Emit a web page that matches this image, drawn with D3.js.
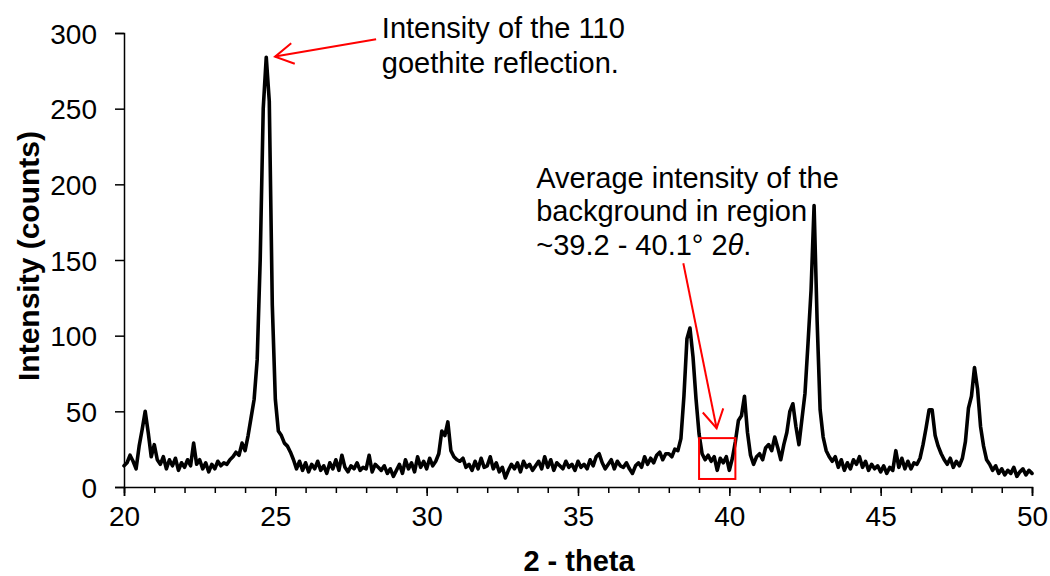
<!DOCTYPE html>
<html>
<head>
<meta charset="utf-8">
<script src="https://cdn.jsdelivr.net/npm/d3@7"></script>
<style>
  html, body { margin: 0; padding: 0; background: #fff; }
  svg { display: block; font-family: "Liberation Sans", Arial, sans-serif; }
</style>
</head>
<body>
<svg id="chart" width="1050" height="576"></svg>
<script>
// ---- data ----
const thetaStart = 20.0;
const thetaStep = 0.1;
const intensity = [
  14, 16, 21, 17, 12, 27, 38, 50, 36, 20,      // 20.0 - 20.9
  28, 18, 15, 20, 12, 18, 14, 19, 11, 16,      // 21
  13, 18, 14, 29, 15, 18, 12, 16, 10, 15,      // 22
  12, 17, 14, 16, 15, 18, 20, 23, 21, 29,      // 23
  24, 34, 46, 58, 84, 150, 250, 284, 255, 120, // 24
  58, 37, 34, 29, 27, 23, 18, 12, 17, 11,      // 25
  16, 10, 15, 12, 17, 11, 14, 9, 16, 12,       // 26
  18, 11, 21, 13, 10, 14, 12, 16, 11, 13,      // 27
  12, 21, 10, 15, 13, 11, 14, 9, 12, 7,        // 28
  11, 15, 9, 18, 12, 16, 10, 20, 13, 17,       // 29
  12, 19, 14, 17, 22, 37, 34, 43, 24, 20,      // 30
  18, 17, 19, 13, 15, 11, 17, 12, 19, 13,      // 31
  14, 20, 12, 16, 10, 13, 6, 11, 15, 12,       // 32
  16, 10, 17, 13, 15, 11, 14, 17, 12, 20,      // 33
  13, 18, 11, 16, 14, 12, 17, 13, 15, 11,      // 34
  17, 13, 15, 12, 18, 14, 20, 22, 16, 12,      // 35
  15, 18, 12, 17, 14, 13, 16, 12, 9, 14,       // 36
  16, 13, 20, 15, 19, 16, 21, 23, 18, 22,      // 37
  22, 20, 25, 24, 32, 60, 98, 105, 86, 58,     // 38
  35, 22, 18, 21, 17, 20, 11, 19, 16, 20,      // 39
  11, 19, 30, 44, 47, 60, 36, 21, 15, 20,      // 40
  22, 18, 26, 28, 24, 33, 26, 18, 28, 36,      // 41
  50, 55, 40, 28, 45, 62, 95, 130, 186, 110,   // 42
  51, 33, 24, 20, 17, 20, 13, 18, 11, 16,      // 43
  12, 18, 15, 20, 13, 17, 11, 15, 12, 14,      // 44
  10, 14, 9, 13, 11, 24, 13, 19, 12, 17,       // 45
  12, 16, 15, 19, 28, 39, 51, 51, 34, 27,      // 46
  22, 18, 15, 19, 13, 17, 14, 19, 30, 52,      // 47
  60, 79, 65, 40, 27, 18, 15, 11, 14, 9,       // 48
  12, 8, 11, 9, 13, 7, 10, 12, 8, 11,          // 49
  9                                            // 50.0
];
const xTicks = [20, 25, 30, 35, 40, 45, 50];
const xMinorTicks = d3.range(20, 51, 1);
const yTicks = [0, 50, 100, 150, 200, 250, 300];
const xTitle = "2 - theta";
const yTitle = "Intensity (counts)";
const note1Lines = ["Intensity of the 110", "goethite reflection."];
const note1Pos = [28.52, 296.5];
const arrow1 = [[28.33, 295.9], [24.99, 284.4]];
const note2Lines = ["Average intensity of the", "background in region", "~39.2 - 40.1° 2"];
const note2Pos = [33.62, 197.6];
const arrow2 = [[38.48, 147.9], [39.58, 38.8]];
const boxRange = { x0: 39.0, x1: 40.2, y0: 5.3, y1: 32.3 };

// ---- layout ----
const svg = d3.select("#chart");
const x = d3.scaleLinear().domain([20, 50]).range([124, 1032]);
const y = d3.scaleLinear().domain([0, 300]).range([487, 33]);
const fontSize = 28;
const noteSize = 29;

const points = intensity.map((v, i) => [thetaStart + i * thetaStep, v]);

// axes
const xAxisMinor = d3.axisBottom(x).tickValues(xMinorTicks).tickSize(6).tickFormat("");
const xAxis = d3.axisBottom(x).tickValues(xTicks).tickSize(9).tickPadding(10).tickFormat(d3.format("d"));
const yAxis = d3.axisLeft(y).tickValues(yTicks).tickSize(9).tickPadding(18).tickFormat(d3.format("d"));

const gxm = svg.append("g").attr("transform", `translate(0,${y(0)})`).call(xAxisMinor);
const gx = svg.append("g").attr("transform", `translate(0,${y(0)})`).call(xAxis);
const gy = svg.append("g").attr("transform", `translate(${x(20)},0)`).call(yAxis);

[gxm, gx, gy].forEach(g => {
  g.selectAll("path.domain").attr("stroke", "#000").attr("stroke-width", 1.5);
  g.selectAll(".tick line").attr("stroke", "#000").attr("stroke-width", 1.5);
  g.selectAll(".tick text").attr("fill", "#000").style("font-size", fontSize + "px")
    .style("font-family", '"Liberation Sans", Arial, sans-serif');
});
gxm.select("path.domain").remove();
gy.selectAll(".tick text").attr("dy", "0.36em");
gx.selectAll(".tick text").attr("dy", "0.71em");

// axis titles
svg.append("text")
  .attr("x", (x(20) + x(50)) / 2 + 1).attr("y", 571)
  .attr("text-anchor", "middle").attr("font-weight", "bold")
  .style("font-size", "29px").text(xTitle);
svg.append("text")
  .attr("transform", `translate(39,${(y(0) + y(300)) / 2 - 4}) rotate(-90)`)
  .attr("text-anchor", "middle").attr("font-weight", "bold")
  .style("font-size", "30px").text(yTitle);

// data line
const line = d3.line().x(d => x(d[0])).y(d => y(d[1]));
svg.append("path").datum(points)
  .attr("d", line).attr("fill", "none")
  .attr("stroke", "#000").attr("stroke-width", 3.6)
  .attr("stroke-linejoin", "round").attr("stroke-linecap", "round");

// annotations
const red = "#ff0000";
function arrow(seg) {
  const [p0, p1] = seg.map(p => [x(p[0]), y(p[1])]);
  svg.append("line").attr("x1", p0[0]).attr("y1", p0[1]).attr("x2", p1[0]).attr("y2", p1[1])
    .attr("stroke", red).attr("stroke-width", 2);
  const ang = Math.atan2(p1[1] - p0[1], p1[0] - p0[0]);
  const L = 21, spread = 0.52;
  const a1 = [p1[0] - L * Math.cos(ang - spread), p1[1] - L * Math.sin(ang - spread)];
  const a2 = [p1[0] - L * Math.cos(ang + spread), p1[1] - L * Math.sin(ang + spread)];
  svg.append("path").attr("d", `M${a1[0]},${a1[1]}L${p1[0]},${p1[1]}L${a2[0]},${a2[1]}`)
    .attr("fill", "none").attr("stroke", red).attr("stroke-width", 2);
}
arrow(arrow1);
arrow(arrow2);

svg.append("rect")
  .attr("x", x(boxRange.x0)).attr("y", y(boxRange.y1))
  .attr("width", x(boxRange.x1) - x(boxRange.x0)).attr("height", y(boxRange.y0) - y(boxRange.y1))
  .attr("fill", "none").attr("stroke", red).attr("stroke-width", 2);

const t1 = svg.append("text").attr("x", x(note1Pos[0])).attr("y", y(note1Pos[1]))
  .style("font-size", noteSize + "px").attr("fill", "#000");
note1Lines.forEach((s, i) => t1.append("tspan").attr("x", x(note1Pos[0])).attr("dy", i ? 34.5 : 0).text(s));

const t2 = svg.append("text").attr("x", x(note2Pos[0])).attr("y", y(note2Pos[1]))
  .style("font-size", noteSize + "px").attr("fill", "#000");
note2Lines.forEach((s, i) => {
  t2.append("tspan").attr("x", x(note2Pos[0])).attr("dy", i ? 33.5 : 0).text(s);
});
t2.append("tspan").attr("font-style", "italic").text("θ");
t2.append("tspan").text(".");
</script>
</body>
</html>
